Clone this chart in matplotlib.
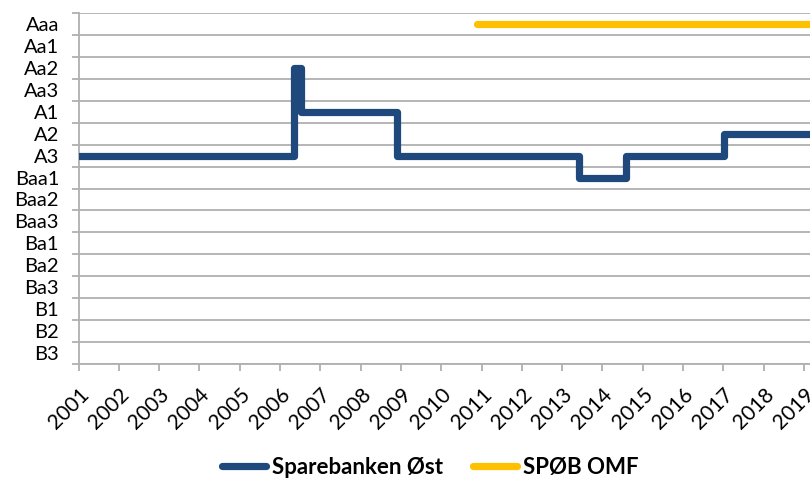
import matplotlib.pyplot as plt
from matplotlib.lines import Line2D

ratings = ["Aaa", "Aa1", "Aa2", "Aa3", "A1", "A2", "A3", "Baa1", "Baa2",
           "Baa3", "Ba1", "Ba2", "Ba3", "B1", "B2", "B3"]
years = list(range(2001, 2020))

# rating changes (decimal year, rating from then on)
bank_dates = [2001.0, 2006.35, 2006.51, 2008.91, 2013.43, 2014.58, 2017.01, 2019.3]
bank_ratings = ["A3", "Aa2", "A1", "A3", "Baa1", "A3", "A2", "A2"]
omf_dates = [2010.88, 2019.3]
omf_ratings = ["Aaa", "Aaa"]

blue = "#1F497D"
yellow = "#FFC000"
grid_col = "#B0B0B0"

plt.rcParams["font.family"] = ["Lato", "DejaVu Sans"]

fig = plt.figure(figsize=(8.1, 4.82), dpi=100)
ax = fig.add_axes([78.5 / 810, 1 - 364 / 482, 1 - 78.5 / 810, (364 - 13) / 482])

idx = {r: i for i, r in enumerate(ratings)}
ax.step(bank_dates, [idx[r] for r in bank_ratings], where="post", color=blue,
        lw=5.2, solid_capstyle="round", solid_joinstyle="round", zorder=3)
ax.plot(omf_dates, [idx[r] for r in omf_ratings], color=yellow, lw=5.2,
        solid_capstyle="round", zorder=3)

ax.set_ylim(len(ratings) - 0.5, -0.5)
ax.set_xlim(2001, 2001 + (810 - 78.5) / 40.3)

# gridlines on category boundaries, labels in the middle
ax.set_yticks([i - 0.5 for i in range(len(ratings) + 1)])
ax.set_yticklabels([])
ax.set_yticks(range(len(ratings)), minor=True)
ax.set_yticklabels(ratings, minor=True, fontsize=14.5)
ax.tick_params(axis="y", which="major", length=5, color=grid_col, width=1.3)
ax.tick_params(axis="y", which="minor", length=0, pad=14)
ax.grid(axis="y", which="major", color=grid_col, lw=1.3)

ax.set_xticks(years)
ax.set_xticklabels([str(y) for y in years], rotation=45, ha="right",
                   rotation_mode="anchor", fontsize=15)
ax.tick_params(axis="x", length=5, color=grid_col, width=1.3, pad=10)

for side in ["top", "right"]:
    ax.spines[side].set_visible(False)
for side in ["left", "bottom"]:
    ax.spines[side].set_color(grid_col)
    ax.spines[side].set_linewidth(1.3)

handles = [
    Line2D([], [], color=blue, lw=5.2, solid_capstyle="round"),
    Line2D([], [], color=yellow, lw=5.2, solid_capstyle="round"),
]
fig.legend(handles, ["Sparebanken Øst", "SPØB OMF"], loc="center",
           bbox_to_anchor=(0.531, 0.031), ncol=2, frameon=False,
           prop={"weight": "bold", "size": 16}, handlelength=2.0,
           handletextpad=0.25, columnspacing=1.35, borderpad=0)

fig.savefig("out.png", dpi=100)
